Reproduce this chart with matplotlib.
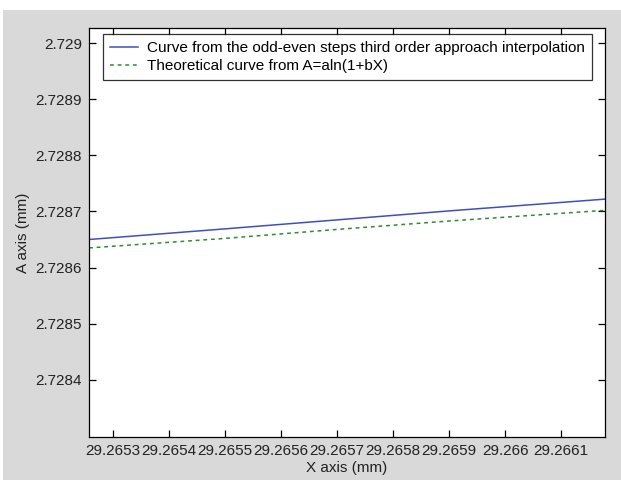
import matplotlib
matplotlib.use("Agg")
import matplotlib.pyplot as plt
from matplotlib.patches import Rectangle

plt.rcParams['font.family'] = ['Liberation Sans', 'DejaVu Sans']

# values
x_mm = [29.265257, 29.2655, 29.2657, 29.2659, 29.266178]
a_interp = [2.728650, 2.728669, 2.728685, 2.728701, 2.728722]
a_theory = [2.728635, 2.728652, 2.728668, 2.728683, 2.728702]

x_ticks = [29.2653, 29.2654, 29.2655, 29.2656, 29.2657, 29.2658, 29.2659, 29.266, 29.2661]
x_labels = ['29.2653', '29.2654', '29.2655', '29.2656', '29.2657',
            '29.2658', '29.2659', '29.266', '29.2661']
y_ticks = [2.7284, 2.7285, 2.7286, 2.7287, 2.7288, 2.7289, 2.729]
y_labels = ['2.7284', '2.7285', '2.7286', '2.7287', '2.7288', '2.7289', '2.729']

W, H = 621, 480
fig = plt.figure(figsize=(W / 100, H / 100), dpi=100, facecolor='white')
# grey window area (white strip on top and left, as in the screenshot)
fig.patches.append(Rectangle((3 / W, 0), 1 - 3 / W, 1 - 10 / H,
                             transform=fig.transFigure, facecolor='#d9d9d9',
                             edgecolor='none', zorder=-10))

ax = fig.add_axes([89 / W, 1 - 437 / H, (605 - 89) / W, (437 - 28) / H])
ax.set_facecolor('white')

ax.plot(x_mm, a_interp, color='#3f4fc0', lw=1.1,
        label='Curve from the odd-even steps third order approach interpolation')
ax.plot(x_mm, a_theory, color='#2e8b2e', lw=1.1, ls=(0, (2.5, 2.5)),
        label='Theoretical curve from A=aln(1+bX)')

ax.set_xlim(29.265257, 29.266178)
ax.set_ylim(2.728298, 2.729027)
ax.set_xticks(x_ticks)
ax.set_xticklabels(x_labels)
ax.set_yticks(y_ticks)
ax.set_yticklabels(y_labels)
ax.tick_params(direction='in', length=5, width=0.9, top=True, right=True,
               labelsize=11, pad=5, colors='black', labelcolor='#222222')
for s in ax.spines.values():
    s.set_linewidth(0.9)

ax.set_xlabel('X axis (mm)', fontsize=11, labelpad=2, color='#222222')
ax.set_ylabel('A axis (mm)', fontsize=11, labelpad=4, color='#222222')

leg = ax.legend(loc='upper left', bbox_to_anchor=(14 / 516, 1 - 6 / 409),
                borderaxespad=0, fontsize=11, fancybox=False, frameon=True,
                handlelength=1.85, handletextpad=0.6, borderpad=0.45,
                labelspacing=0.3)
leg.get_frame().set_edgecolor('black')
leg.get_frame().set_linewidth(0.9)

fig.savefig('out.png', dpi=100)
